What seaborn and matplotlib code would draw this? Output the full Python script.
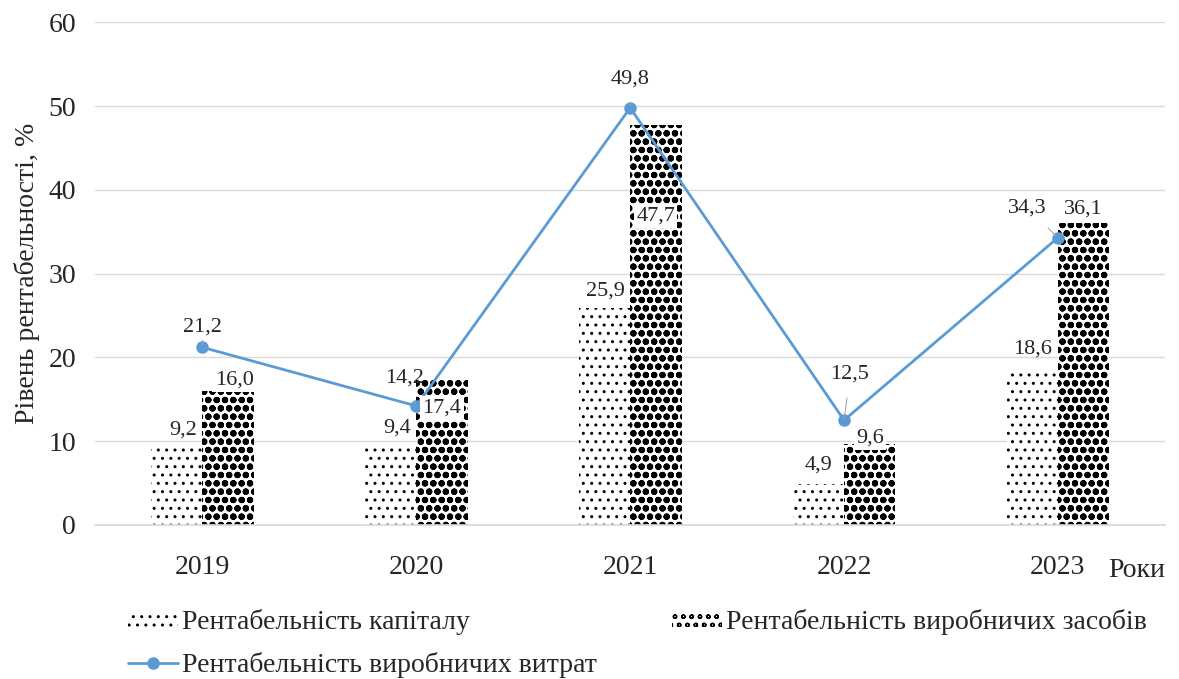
import pandas as pd
import numpy as np
import matplotlib.pyplot as plt
import seaborn as sns
from matplotlib.patches import Patch
from matplotlib.lines import Line2D

# data
years = ["2019", "2020", "2021", "2022", "2023"]
capital = [9.2, 9.4, 25.9, 4.9, 18.6]
assets = [16.0, 17.4, 47.7, 9.6, 36.1]
costs = [21.2, 14.2, 49.8, 12.5, 34.3]

lbl_capital = "Рентабельність капіталу"
lbl_assets = "Рентабельність виробничих засобів"
lbl_costs = "Рентабельність виробничих витрат"

sns.set_theme(style="white")
plt.rcParams["font.family"] = ["Liberation Serif", "DejaVu Serif"]
plt.rcParams["hatch.linewidth"] = 1.0

LINE_C = "#5b9bd5"
H_CAP, H_AST = "..", "oo"
AST_HLW = 2.2

df = pd.DataFrame({
    "year": years * 2,
    "value": capital + assets,
    "kind": [lbl_capital] * 5 + [lbl_assets] * 5,
})

fig, ax = plt.subplots(figsize=(11.79, 6.79), dpi=100)
fig.subplots_adjust(left=0.081, right=0.988, top=0.967, bottom=0.227)

sns.barplot(data=df, x="year", y="value", hue="kind", ax=ax,
            width=0.48, gap=0, legend=False, saturation=1)


def style_bar(p, h):
    p.set_facecolor("white")
    p.set_edgecolor("black")
    p.set_linewidth(0)
    p.set_hatch(h)
    if h == H_AST and hasattr(p, "set_hatch_linewidth"):
        p.set_hatch_linewidth(AST_HLW)


for cont, h in zip(ax.containers, [H_CAP, H_AST]):
    for bar in cont:
        style_bar(bar, h)

x = np.arange(len(years))
ax.plot(x, costs, color=LINE_C, lw=2, marker="o", ms=8, zorder=5)


def fmt(v):
    return f"{v:.1f}".replace(".", ",")


bw = 0.24
lab_kw = dict(textcoords="offset pixels", ha="center", va="center", fontsize=16)
# labels for capital bars (offsets in pixels)
cap_off = [(6, 18), (6, 18), (1, 17), (0, 19), (0, 20)]
for i, v in enumerate(capital):
    ax.annotate(fmt(v), (i - bw / 2, v), xytext=cap_off[i], **lab_kw)
# labels for production assets bars
asset_off = [(6, 11), (0, -29), (0, -91), (0, 6), (0, 14)]
for i, v in enumerate(assets):
    ax.annotate(fmt(v), (i + bw / 2, v), xytext=asset_off[i], zorder=6,
                bbox=dict(boxstyle="square,pad=0.1", fc="white", ec="none"), **lab_kw)
# labels for line, with thin leader lines
cost_off = [(0, 20), (-12, 28), (0, 29), (6, 46), (-31, 30)]
for i, v in enumerate(costs):
    ax.annotate(fmt(v), (i, v), xytext=cost_off[i], zorder=6,
                arrowprops=dict(arrowstyle="-", color="#a6a6a6", lw=0.8,
                                shrinkA=8, shrinkB=2), **lab_kw)

ax.set_ylim(0, 60)
ax.set_xlim(-0.5, 4.5)
ax.set_yticks(range(0, 61, 10))
ax.yaxis.grid(True, color="#d9d9d9", lw=1)
ax.set_axisbelow(True)
for s in ["top", "right", "left"]:
    ax.spines[s].set_visible(False)
ax.spines["bottom"].set_color("#d9d9d9")
ax.tick_params(axis="y", labelsize=20, length=0, pad=14)
ax.tick_params(axis="x", labelsize=20, length=0, pad=22)
ax.set_xlabel("")
ax.set_ylabel("Рівень рентабельності, %", fontsize=20, labelpad=6)
ax.text(1.0, -0.09, "Роки", transform=ax.transAxes, ha="right", va="center", fontsize=20)

cap_handle = Patch(facecolor="white", edgecolor="black", hatch=H_CAP, lw=0, label=lbl_capital)
ast_handle = Patch(facecolor="white", edgecolor="black", hatch=H_AST, lw=0, label=lbl_assets)
if hasattr(ast_handle, "set_hatch_linewidth"):
    ast_handle.set_hatch_linewidth(AST_HLW)
handles = [
    cap_handle,
    Line2D([0], [0], color=LINE_C, lw=2, marker="o", ms=8, label=lbl_costs),
    ast_handle,
]
fig.legend(handles=handles, loc="lower left", bbox_to_anchor=(0.087, -0.035), ncol=2,
           frameon=False, fontsize=20, columnspacing=2.7, handlelength=1.8,
           handleheight=0.5, handletextpad=0.15, labelspacing=0.62)

plt.savefig("out.png", dpi=100)
